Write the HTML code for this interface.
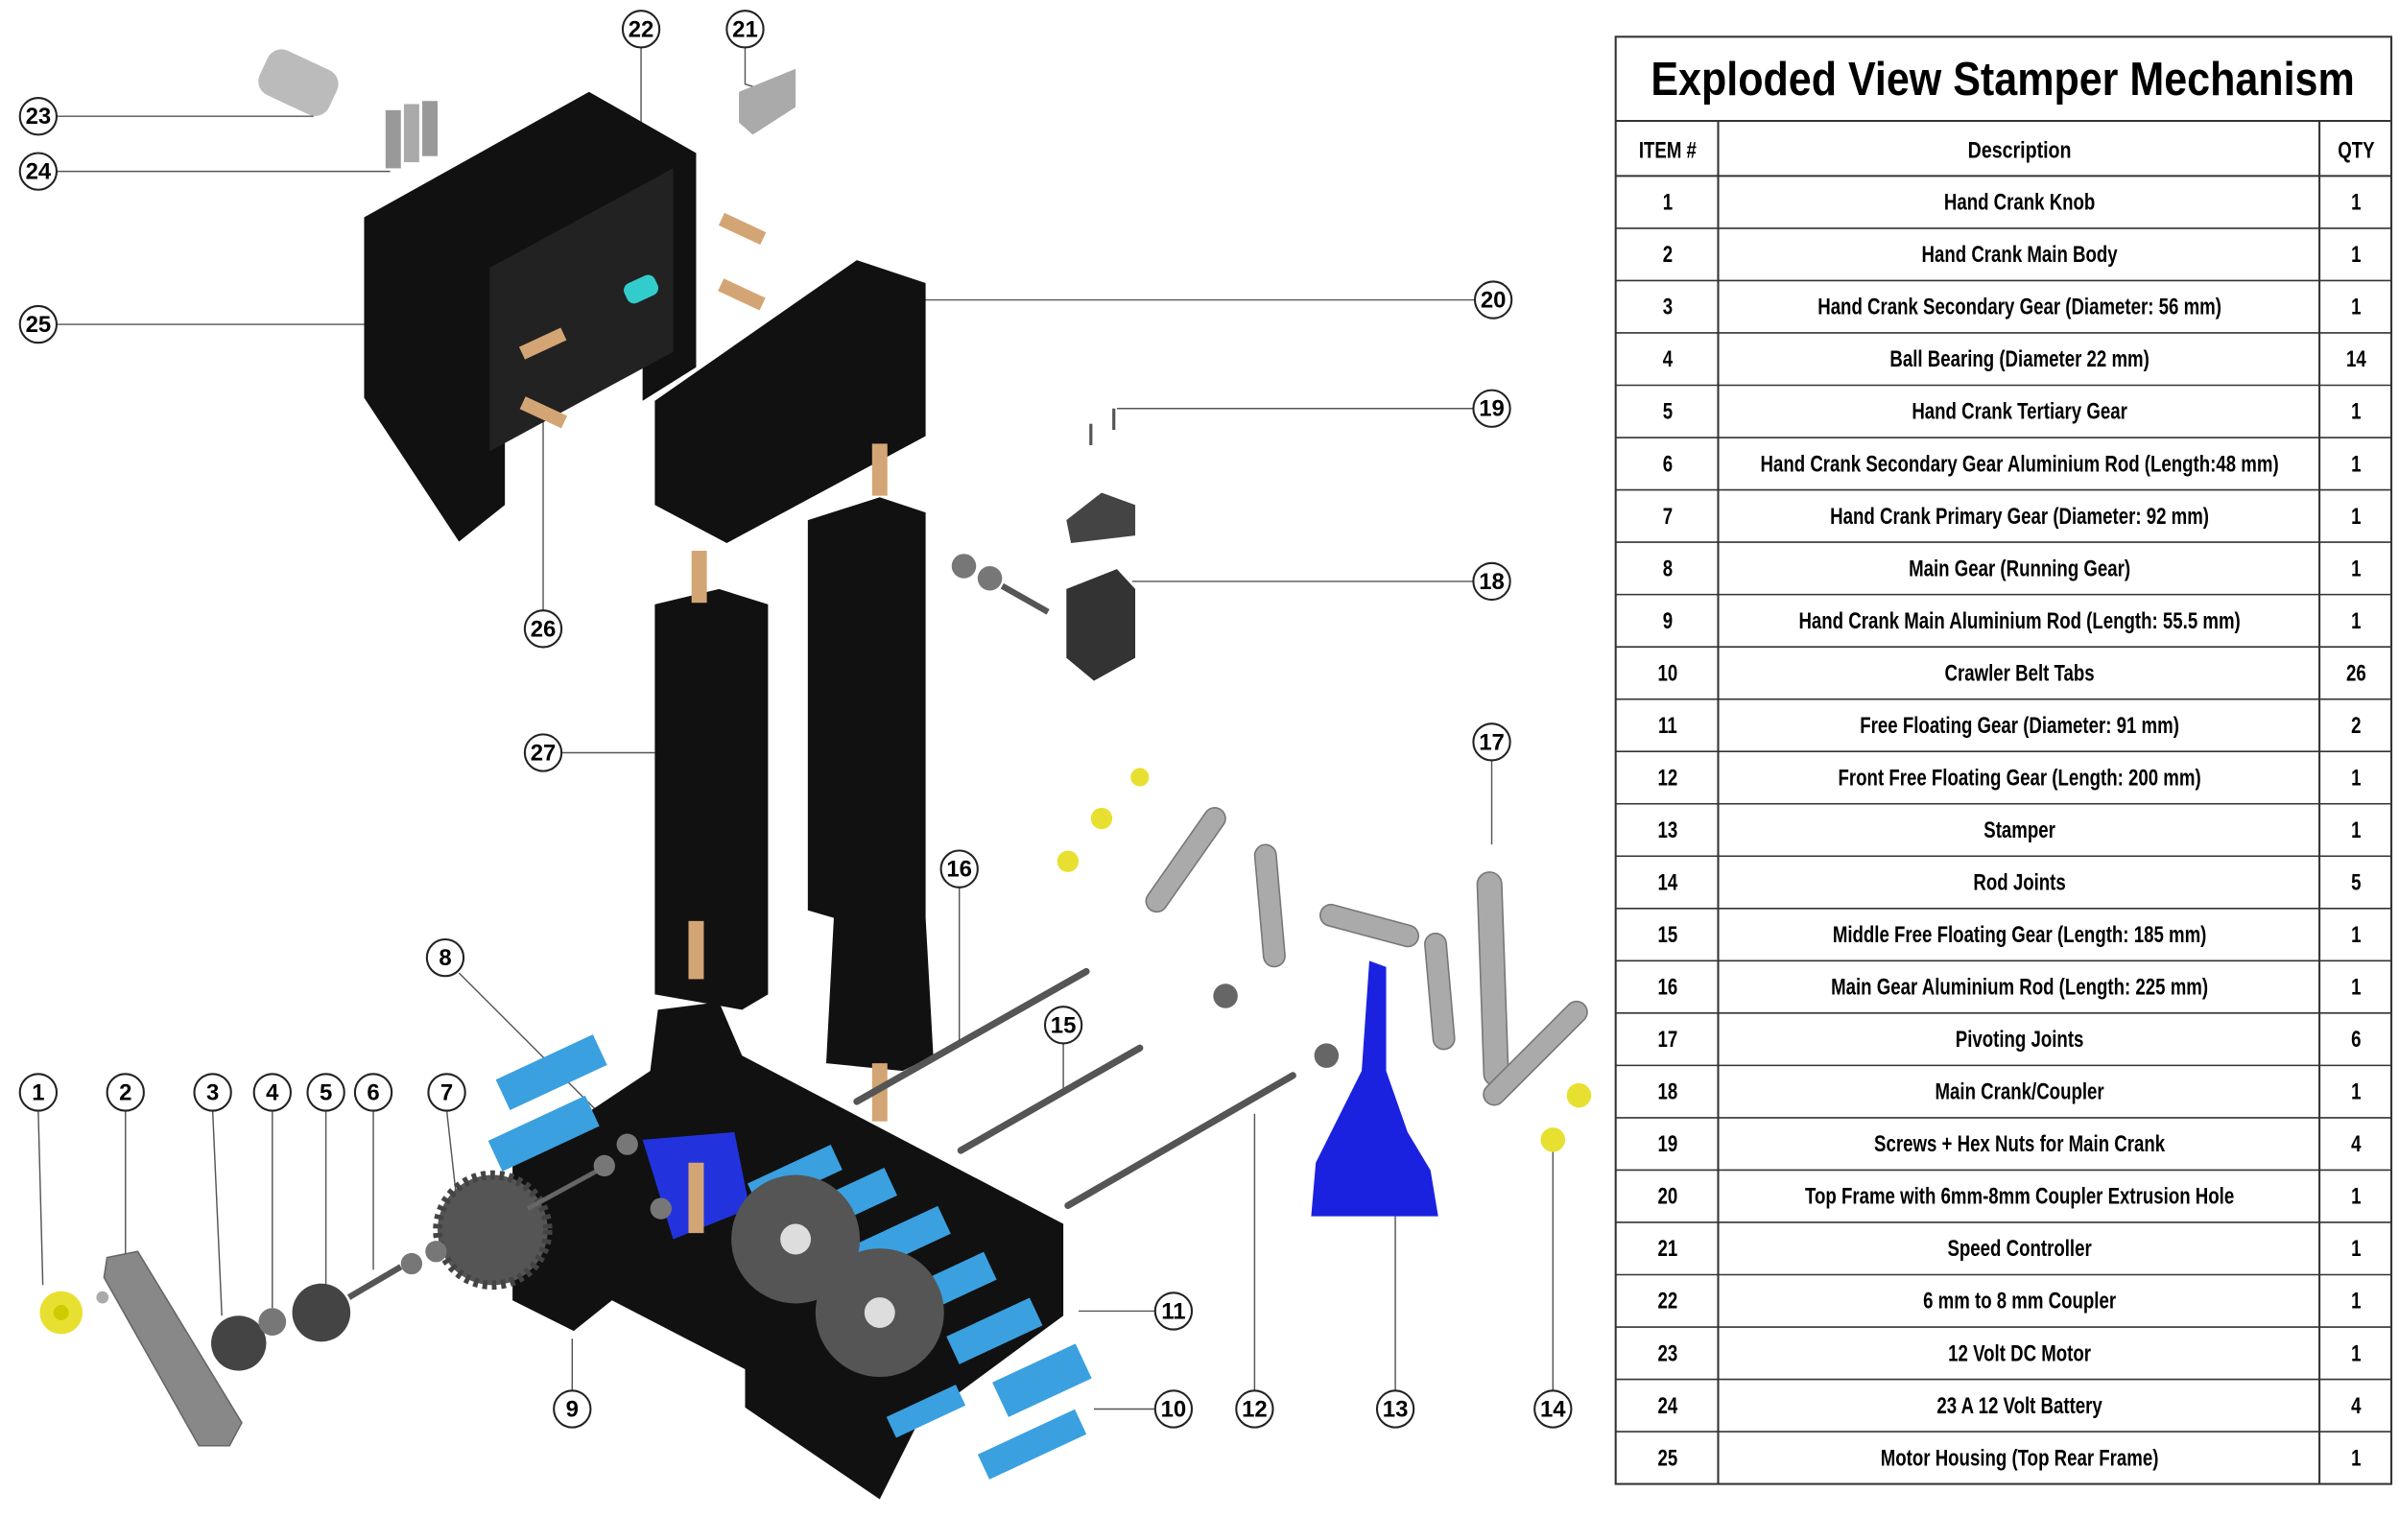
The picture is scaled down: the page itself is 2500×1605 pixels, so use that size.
<!DOCTYPE html>
<html><head><meta charset="utf-8"><style>
html,body{margin:0;padding:0;background:#fff}
svg{display:block}
text{font-family:"Liberation Sans",sans-serif}
.c circle{fill:#fff;stroke:#222;stroke-width:1.3}
.c text{font-size:15px;font-weight:bold;text-anchor:middle}
.l{stroke:#555;stroke-width:0.9;fill:none}
.t text{font-size:15px;font-weight:bold;text-anchor:middle}
</style></head><body>
<svg width="2500" height="1605" viewBox="0 0 1568 1006.6" xmlns="http://www.w3.org/2000/svg">
<rect width="1568" height="1007" fill="#fff"/>
<g class="l">
<line x1="37" y1="76" x2="205" y2="76"/><line x1="37" y1="112" x2="255" y2="112"/>
<line x1="37" y1="212" x2="238" y2="212"/><line x1="419" y1="31" x2="419" y2="82"/>
<polyline points="487,31 487,55 497,58"/><line x1="964" y1="196" x2="600" y2="196"/>
<line x1="963" y1="267" x2="730" y2="267"/><line x1="963" y1="380" x2="740" y2="380"/>
<line x1="355" y1="399" x2="355" y2="270"/><line x1="367" y1="492" x2="428" y2="492"/>
<line x1="975" y1="497" x2="975" y2="552"/><line x1="627" y1="580" x2="627" y2="680"/>
<line x1="695" y1="682" x2="695" y2="712"/><line x1="300" y1="636" x2="412" y2="748"/>
<line x1="820" y1="909" x2="820" y2="728"/><line x1="912" y1="909" x2="912" y2="795"/>
<line x1="1015" y1="909" x2="1015" y2="752"/><line x1="755" y1="857" x2="705" y2="857"/>
<line x1="755" y1="921" x2="715" y2="921"/><line x1="374" y1="909" x2="374" y2="875"/>
<line x1="25" y1="726" x2="28" y2="840"/><line x1="82" y1="726" x2="82" y2="820"/>
<line x1="139" y1="726" x2="145" y2="860"/><line x1="178" y1="726" x2="178" y2="855"/>
<line x1="213" y1="726" x2="213" y2="840"/><line x1="244" y1="726" x2="244" y2="830"/>
<line x1="292" y1="726" x2="298" y2="780"/>
</g>
<rect x="170" y="38" width="50" height="32" rx="10" fill="#bbb" transform="rotate(25 195 54)"/>
<rect x="252" y="72" width="10" height="38" fill="#999"/><rect x="264" y="68" width="10" height="38" fill="#aaa"/><rect x="276" y="66" width="10" height="36" fill="#999"/>
<polygon points="483,60 520,45 520,70 492,88 483,80" fill="#aaa"/>
<polygon points="238,142 385,60 455,100 455,240 420,262 420,170 395,140 330,265 330,330 300,354 238,260" fill="#111"/>
<polygon points="320,175 440,110 440,230 320,295" fill="#222"/>
<polygon points="428,262 560,170 605,185 605,285 475,355 428,330" fill="#111"/>
<polygon points="428,395 470,385 502,395 502,650 485,660 428,650" fill="#111"/>
<polygon points="528,340 575,325 605,335 605,600 610,690 590,700 540,695 545,600 528,595" fill="#111"/>
<rect x="452" y="360" width="10" height="34" fill="#d4a574"/><rect x="570" y="290" width="10" height="34" fill="#d4a574"/>
<rect x="450" y="602" width="10" height="38" fill="#d4a574"/><rect x="570" y="695" width="10" height="38" fill="#d4a574"/>
<g fill="#d4a574"><rect x="470" y="145" width="30" height="9" transform="rotate(25 485 150)"/><rect x="470" y="188" width="30" height="9" transform="rotate(25 485 192)"/><rect x="340" y="220" width="30" height="9" transform="rotate(-25 355 225)"/><rect x="340" y="265" width="30" height="9" transform="rotate(25 355 270)"/></g>
<rect x="408" y="182" width="22" height="14" rx="5" fill="#3cc" transform="rotate(-25 419 189)"/>
<polygon points="697,340 720,322 742,330 742,350 700,355" fill="#444"/>
<polygon points="697,385 730,372 742,385 742,430 715,445 697,430" fill="#333"/>
<circle cx="630" cy="370" r="8" fill="#777"/><circle cx="647" cy="378" r="8" fill="#777"/>
<line x1="655" y1="383" x2="685" y2="400" stroke="#555" stroke-width="4"/>
<polygon points="335,760 425,700 430,660 470,655 485,690 695,800 695,860 600,930 575,980 487,920 487,895 400,850 375,870 335,850" fill="#111"/>
<g fill="#3aa0e0">
<rect x="325" y="690" width="70" height="22" transform="rotate(-25 360 700)"/><rect x="320" y="730" width="70" height="22" transform="rotate(-25 355 740)"/>
<rect x="525" y="775" width="60" height="20" transform="rotate(-25 555 785)"/><rect x="560" y="800" width="60" height="20" transform="rotate(-25 590 810)"/>
<rect x="590" y="830" width="60" height="20" transform="rotate(-25 620 840)"/><rect x="620" y="860" width="60" height="20" transform="rotate(-25 650 870)"/>
<rect x="650" y="890" width="60" height="25" transform="rotate(-25 680 900)"/><rect x="640" y="935" width="70" height="18" transform="rotate(-25 675 945)"/>
<rect x="580" y="915" width="50" height="15" transform="rotate(-25 605 922)"/><rect x="490" y="760" width="60" height="18" transform="rotate(-25 520 770)"/>
</g>
<polygon points="420,745 480,740 490,790 440,810" fill="#2233dd"/>
<rect x="450" y="760" width="10" height="46" fill="#d4a574"/>
<circle cx="520" cy="810" r="42" fill="#555"/><circle cx="520" cy="810" r="10" fill="#ddd"/>
<circle cx="575" cy="858" r="42" fill="#555"/><circle cx="575" cy="858" r="10" fill="#ddd"/>
<circle cx="322" cy="804" r="36" fill="#555" stroke="#444" stroke-width="6" stroke-dasharray="3 3"/>
<line x1="345" y1="790" x2="400" y2="760" stroke="#666" stroke-width="3"/>
<circle cx="395" cy="762" r="7" fill="#777"/><circle cx="410" cy="748" r="7" fill="#777"/><circle cx="432" cy="790" r="7" fill="#777"/>
<circle cx="40" cy="858" r="14" fill="#e8e030"/><circle cx="40" cy="858" r="5" fill="#cc0"/>
<circle cx="67" cy="848" r="4" fill="#aaa"/>
<polygon points="70,822 90,818 158,930 150,945 130,945 68,835" fill="#888" stroke="#666"/>
<circle cx="156" cy="878" r="18" fill="#444"/><circle cx="178" cy="864" r="9" fill="#777"/>
<circle cx="210" cy="858" r="19" fill="#444"/>
<line x1="228" y1="848" x2="262" y2="828" stroke="#555" stroke-width="4"/>
<circle cx="269" cy="826" r="7" fill="#777"/><circle cx="285" cy="818" r="7" fill="#777"/>
<g stroke="#555" stroke-width="4.5" stroke-linecap="round">
<line x1="560" y1="720" x2="710" y2="635"/><line x1="628" y1="752" x2="745" y2="685"/>
<line x1="698" y1="788" x2="845" y2="703"/>
</g>
<g fill="#aaa" stroke="#777">
<rect x="735" y="555" width="80" height="14" rx="7" transform="rotate(-55 775 562)"/>
<rect x="790" y="585" width="80" height="14" rx="7" transform="rotate(85 830 592)"/>
<rect x="862" y="598" width="66" height="14" rx="7" transform="rotate(15 895 605)"/>
<rect x="903" y="641" width="76" height="14" rx="7" transform="rotate(85 941 648)"/>
<rect x="925" y="612" width="140" height="16" rx="8" transform="rotate(88 975 620)"/>
<rect x="960" y="685" width="90" height="14" rx="7" transform="rotate(-45 1000 692)"/>
</g>
<circle cx="801" cy="651" r="8" fill="#666"/><circle cx="867" cy="690" r="8" fill="#666"/>
<g fill="#e8e030"><circle cx="745" cy="508" r="6"/><circle cx="720" cy="535" r="7"/><circle cx="698" cy="563" r="7"/><circle cx="1032" cy="716" r="8"/><circle cx="1015" cy="745" r="8"/></g>
<polygon points="857,795 940,795 935,765 920,740 906,700 906,632 895,628 890,700 860,760" fill="#1a22e0"/>
<line x1="713" y1="277" x2="713" y2="291" stroke="#555" stroke-width="2"/><line x1="728" y1="267" x2="728" y2="281" stroke="#555" stroke-width="2"/>
<g class="c">
<g transform="translate(25,714)"><circle r="12"/><text y="5">1</text></g>
<g transform="translate(82,714)"><circle r="12"/><text y="5">2</text></g>
<g transform="translate(139,714)"><circle r="12"/><text y="5">3</text></g>
<g transform="translate(178,714)"><circle r="12"/><text y="5">4</text></g>
<g transform="translate(213,714)"><circle r="12"/><text y="5">5</text></g>
<g transform="translate(244,714)"><circle r="12"/><text y="5">6</text></g>
<g transform="translate(292,714)"><circle r="12"/><text y="5">7</text></g>
<g transform="translate(291,626)"><circle r="12"/><text y="5">8</text></g>
<g transform="translate(374,921)"><circle r="12"/><text y="5">9</text></g>
<g transform="translate(767,921)"><circle r="12"/><text y="5">10</text></g>
<g transform="translate(767,857)"><circle r="12"/><text y="5">11</text></g>
<g transform="translate(820,921)"><circle r="12"/><text y="5">12</text></g>
<g transform="translate(912,921)"><circle r="12"/><text y="5">13</text></g>
<g transform="translate(1015,921)"><circle r="12"/><text y="5">14</text></g>
<g transform="translate(695,670)"><circle r="12"/><text y="5">15</text></g>
<g transform="translate(627,568)"><circle r="12"/><text y="5">16</text></g>
<g transform="translate(975,485)"><circle r="12"/><text y="5">17</text></g>
<g transform="translate(975,380)"><circle r="12"/><text y="5">18</text></g>
<g transform="translate(975,267)"><circle r="12"/><text y="5">19</text></g>
<g transform="translate(976,196)"><circle r="12"/><text y="5">20</text></g>
<g transform="translate(487,19)"><circle r="12"/><text y="5">21</text></g>
<g transform="translate(419,19)"><circle r="12"/><text y="5">22</text></g>
<g transform="translate(25,76)"><circle r="12"/><text y="5">23</text></g>
<g transform="translate(25,112)"><circle r="12"/><text y="5">24</text></g>
<g transform="translate(25,212)"><circle r="12"/><text y="5">25</text></g>
<g transform="translate(355,411)"><circle r="12"/><text y="5">26</text></g>
<g transform="translate(355,492)"><circle r="12"/><text y="5">27</text></g>
</g>
<g stroke="#333" stroke-width="1.3" fill="none">
<rect x="1056" y="24" width="507" height="946"/>
<line x1="1056" y1="79" x2="1563" y2="79"/>
<line x1="1123" y1="79" x2="1123" y2="970"/><line x1="1516" y1="79" x2="1516" y2="970"/>
<line x1="1056" y1="115" x2="1563" y2="115"/>
</g>
<text x="1309" y="62" font-size="31" font-weight="bold" text-anchor="middle" textLength="460" lengthAdjust="spacingAndGlyphs">Exploded View Stamper Mechanism</text>
<g class="t">
<text transform="translate(1090,103) scale(0.78,1)" font-size="17">ITEM #</text>
<text transform="translate(1320,103) scale(0.82,1)" font-size="18">Description</text>
<text transform="translate(1540,103) scale(0.78,1)" font-size="17">QTY</text>
</g>
<g class="t" id="rows"></g>
<g stroke="#333" stroke-width="1" id="rl"></g>
</svg>
<script>
var d=[["Hand Crank Knob",1],["Hand Crank Main Body",1],["Hand Crank Secondary Gear (Diameter: 56 mm)",1],["Ball Bearing (Diameter 22 mm)",14],["Hand Crank Tertiary Gear",1],["Hand Crank Secondary Gear Aluminium Rod (Length:48 mm)",1],["Hand Crank Primary Gear (Diameter: 92 mm)",1],["Main Gear (Running Gear)",1],["Hand Crank Main Aluminium Rod (Length: 55.5 mm)",1],["Crawler Belt Tabs",26],["Free Floating Gear (Diameter: 91 mm)",2],["Front Free Floating Gear (Length: 200 mm)",1],["Stamper",1],["Rod Joints",5],["Middle Free Floating Gear (Length: 185 mm)",1],["Main Gear Aluminium Rod (Length: 225 mm)",1],["Pivoting Joints",6],["Main Crank/Coupler",1],["Screws + Hex Nuts for Main Crank",4],["Top Frame with 6mm-8mm Coupler Extrusion Hole",1],["Speed Controller",1],["6 mm to 8 mm Coupler",1],["12 Volt DC Motor",1],["23 A 12 Volt Battery",4],["Motor Housing (Top Rear Frame)",1]];
var ns="http://www.w3.org/2000/svg",g=document.getElementById("rows"),l=document.getElementById("rl"),h=(970-115)/25;
d.forEach(function(r,i){var y=115+h*i+h/2+5;
[[1090,i+1],[1320,r[0]],[1540,r[1]]].forEach(function(c){var t=document.createElementNS(ns,"text");t.setAttribute("transform","translate("+c[0]+","+y+") scale(0.78,1)");t.textContent=c[1];g.appendChild(t);});
if(i<24){var ln=document.createElementNS(ns,"line");var yy=115+h*(i+1);ln.setAttribute("x1",1056);ln.setAttribute("x2",1563);ln.setAttribute("y1",yy);ln.setAttribute("y2",yy);l.appendChild(ln);}});
</script>
</body></html>
